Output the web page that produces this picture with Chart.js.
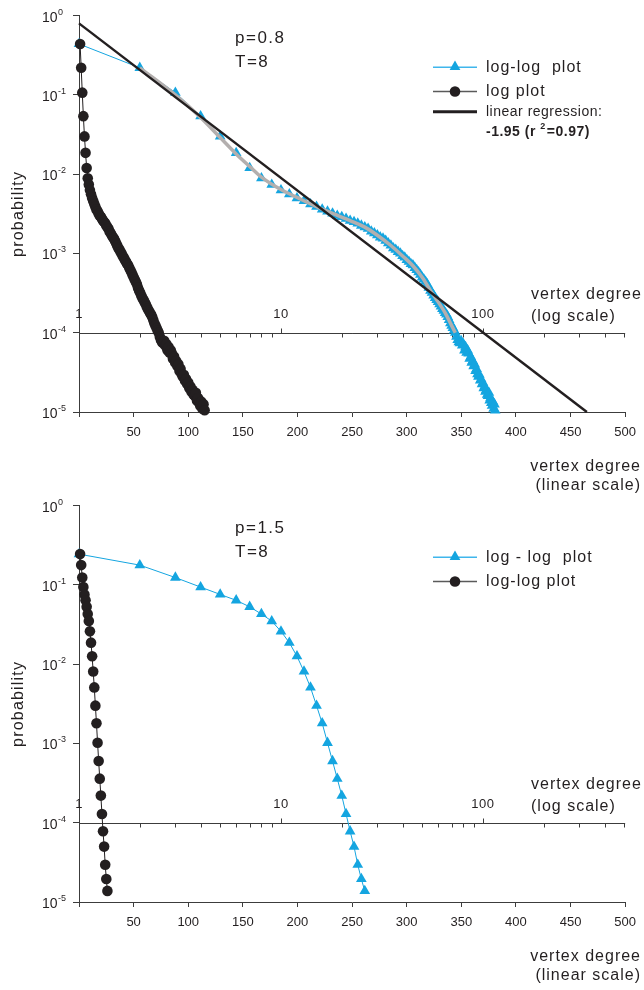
<!DOCTYPE html>
<html>
<head>
<meta charset="utf-8">
<script src="https://cdn.jsdelivr.net/npm/chart.js@4.4.1/dist/chart.umd.min.js"></script>
<style>
  html, body { margin: 0; padding: 0; background: #fff; }
  #wrap { position: relative; width: 644px; height: 990px; }
  canvas { position: absolute; left: 0; }
  #c1 { top: 0; }
  #c2 { top: 490px; }
</style>
</head>
<body>
<div id="wrap">
  <canvas id="c1" width="644" height="495"></canvas>
  <canvas id="c2" width="644" height="500"></canvas>
</div>
<script>
var FONT = '"Liberation Sans", Arial, Helvetica, sans-serif';
var INK = '#231f20';
var BLUE = '#14a5e0';
var AXIS = '#3c3c3c';

// --- panel 1 (p=0.8, T=8): probability of vertex degree 1, 2, 3 ...
var prob1 = [
  0.44, 0.22, 0.107, 0.054, 0.030, 0.0186, 0.0120, 0.0089, 0.0074, 0.0063,
  0.0056, 0.0050, 0.0046, 0.0042, 0.0039, 0.0036, 0.0034, 0.0032, 0.0030, 0.0029,
  0.00275, 0.0026, 0.0025, 0.0024, 0.00225, 0.00215, 0.00205, 0.0019, 0.0018, 0.0017,
  0.0016, 0.00155, 0.00145, 0.00135, 0.00126, 0.00117, 0.00112, 0.00105, 0.0010, 0.00093,
  0.00089, 0.00083, 0.00079, 0.00074, 0.00071, 0.00066, 0.00062, 0.00058, 0.00054, 0.00050,
  0.00047, 0.00044, 0.00041, 0.00037, 0.00034, 0.00032, 0.000295, 0.000275, 0.00026, 0.000245,
  0.00023, 0.000215, 0.00020, 0.00019, 0.000178, 0.00017, 0.000158, 0.000145, 0.000132, 0.000123,
  0.000115, 0.000107, 0.00010, 0.000089, 0.000081, 0.000076, 0.000074, 0.000079, 0.000069, 0.000072,
  0.000060, 0.000066, 0.000056, 0.000060, 0.000055, 0.000047, 0.000050, 0.000042, 0.000044, 0.000038,
  0.000040, 0.000033, 0.000035, 0.000030, 0.000028, 0.0000295, 0.000025, 0.000026, 0.0000225, 0.0000235,
  0.000020, 0.000021, 0.000018, 0.000019, 0.0000165, 0.000016, 0.0000175, 0.000014, 0.000015, 0.000013,
  0.000012, 0.0000135, 0.000011, 0.0000125, 0.0000105
];
// smooth (grey) fit of the log-log curve
var fitDegree1 = [2, 3, 4, 5, 6, 7, 8, 10, 12, 15, 18, 22, 26, 30, 35, 40, 45, 50, 55, 60, 65, 70, 73];
var fitProb1 = [0.22, 0.10, 0.052, 0.029, 0.018, 0.0125, 0.0092, 0.0064, 0.0051, 0.0039, 0.0032, 0.0026,
  0.00215, 0.0017, 0.00126, 0.00093, 0.0007, 0.0005, 0.00034, 0.000245, 0.000178, 0.000123, 0.0001];
// linear regression, slope -1.95
var regDegree1 = [1, 327];
var regProb1 = [0.8, 0.00001];

// --- panel 2 (p=1.5, T=8)
var prob2 = [
  0.245, 0.178, 0.124, 0.094, 0.076, 0.064, 0.053, 0.043, 0.035, 0.026,
  0.0187, 0.0126, 0.0081, 0.0051, 0.0030, 0.0018, 0.00102, 0.00060, 0.00036, 0.00022,
  0.000129, 0.000078, 0.000050, 0.0000295, 0.0000195, 0.0000138
];

// --- axes
var yTickValues = [1, 0.1, 0.01, 0.001, 0.0001, 0.00001];
var yTickExp = ['0', '-1', '-2', '-3', '-4', '-5'];
var logMajor = [1, 10, 100];
var logMinor = [2, 3, 4, 5, 6, 7, 8, 9, 20, 30, 40, 50, 60, 70, 80, 90, 200, 300, 400, 500];

function byDegree(probs) {
  return probs.map(function (p, i) { return { x: i + 1, y: p }; });
}
function pairs(xs, ys) {
  return xs.map(function (x, i) { return { x: x, y: ys[i] }; });
}

function text(ctx, s, x, y, font, align, spacing) {
  ctx.save();
  ctx.font = font;
  ctx.fillStyle = INK;
  ctx.textAlign = align || 'left';
  ctx.textBaseline = 'middle';
  ctx.letterSpacing = (spacing || 0) + 'px';
  ctx.fillText(s, x, y);
  ctx.restore();
}

function triangle(ctx, x, y, r) {
  ctx.beginPath();
  ctx.moveTo(x, y - r);
  ctx.lineTo(x + r * 0.866, y + r / 2);
  ctx.lineTo(x - r * 0.866, y + r / 2);
  ctx.closePath();
  ctx.fill();
}

function deco(cfg) {
  return {
    id: 'deco',
    beforeDatasetsDraw: function (chart) {
      var ctx = chart.ctx, a = chart.chartArea;
      var xl = chart.scales.xLog, ys = chart.scales.y;
      var y0 = Math.round(ys.getPixelForValue(0.0001)) + 0.5;
      ctx.save();
      ctx.strokeStyle = AXIS;
      ctx.lineWidth = 1;
      ctx.beginPath();
      ctx.moveTo(a.left, y0);
      ctx.lineTo(a.right, y0);
      logMinor.forEach(function (v) {
        var px = Math.round(xl.getPixelForValue(v)) + 0.5;
        ctx.moveTo(px, y0);
        ctx.lineTo(px, y0 + 4);
      });
      logMajor.forEach(function (v) {
        var px = Math.round(xl.getPixelForValue(v)) + 0.5;
        ctx.moveTo(px, y0);
        ctx.lineTo(px, y0 - 5);
      });
      ctx.stroke();
      ctx.restore();
      logMajor.forEach(function (v) {
        text(ctx, String(v), xl.getPixelForValue(v), y0 - 19, '13px ' + FONT, 'center', 0.5);
      });
      text(ctx, 'vertex degree', 531, y0 - 39, '16px ' + FONT, 'left', 1);
      text(ctx, '(log scale)', 531, y0 - 17, '16px ' + FONT, 'left', 1);
    },
    afterDraw: function (chart) {
      var ctx = chart.ctx, a = chart.chartArea;
      var ys = chart.scales.y;
      // y tick labels 10^n
      yTickValues.forEach(function (v, i) {
        var py = ys.getPixelForValue(v);
        ctx.save();
        ctx.fillStyle = INK;
        ctx.textBaseline = 'alphabetic';
        ctx.font = '9px ' + FONT;
        ctx.textAlign = 'left';
        ctx.fillText(yTickExp[i], 58, py - 1);
        ctx.font = '14px ' + FONT;
        ctx.textAlign = 'right';
        ctx.fillText('10', 57.5, py + 6);
        ctx.restore();
      });
      // y title
      ctx.save();
      ctx.translate(18.5, (a.top + a.bottom) / 2);
      ctx.rotate(-Math.PI / 2);
      text(ctx, 'probability', 0, 0, '16px ' + FONT, 'center', 1.2);
      ctx.restore();
      // x title
      text(ctx, 'vertex degree', 641, a.bottom + 55, '16px ' + FONT, 'right', 1);
      text(ctx, '(linear scale)', 641, a.bottom + 74, '16px ' + FONT, 'right', 1);
      // annotation
      text(ctx, cfg.note[0], 235, 38, '17px ' + FONT, 'left', 1.5);
      text(ctx, cfg.note[1], 235, 62, '17px ' + FONT, 'left', 1.5);
      // legend
      cfg.legend.forEach(function (it) {
        ctx.save();
        if (it.kind === 'tri') {
          ctx.strokeStyle = '#3fb6ec';
          ctx.lineWidth = 1.5;
          ctx.beginPath(); ctx.moveTo(433, it.y); ctx.lineTo(477, it.y); ctx.stroke();
          ctx.fillStyle = BLUE;
          triangle(ctx, 455, it.y - 0.5, 6.2);
        } else if (it.kind === 'dot') {
          ctx.strokeStyle = '#5a5a5a';
          ctx.lineWidth = 1.5;
          ctx.beginPath(); ctx.moveTo(433, it.y); ctx.lineTo(477, it.y); ctx.stroke();
          ctx.fillStyle = INK;
          ctx.beginPath(); ctx.arc(455, it.y, 5.3, 0, Math.PI * 2); ctx.fill();
        } else {
          ctx.strokeStyle = INK;
          ctx.lineWidth = 3;
          ctx.beginPath(); ctx.moveTo(433, it.y); ctx.lineTo(477, it.y); ctx.stroke();
        }
        ctx.restore();
        if (it.kind === 'reg') {
          text(ctx, 'linear regression:', 486, it.y, '14px ' + FONT, 'left', 0.5);
          var bold = 'bold 14px ' + FONT;
          ctx.save();
          ctx.font = bold;
          ctx.letterSpacing = '0.5px';
          var w1 = ctx.measureText('-1.95 (r ').width;
          ctx.font = 'bold 9px ' + FONT;
          var w2 = ctx.measureText('2').width;
          ctx.restore();
          text(ctx, '-1.95 (r ', 486, it.y + 20, bold, 'left', 0.5);
          text(ctx, '2', 486 + w1, it.y + 15, 'bold 9px ' + FONT, 'left', 0);
          text(ctx, '=0.97)', 486 + w1 + w2 + 1, it.y + 20, bold, 'left', 0.5);
        } else {
          text(ctx, it.label, 486, it.y, '16px ' + FONT, 'left', 1);
        }
      });
    }
  };
}

function makeChart(id, canvasH, datasets, cfg) {
  return new Chart(document.getElementById(id), {
    type: 'line',
    data: { datasets: datasets },
    options: {
      responsive: false,
      animation: false,
      events: [],
      layout: { padding: { left: 0, right: 16, top: 15.7, bottom: 0 } },
      plugins: { legend: { display: false }, tooltip: { enabled: false } },
      scales: {
        x: {
          type: 'linear', position: 'bottom', min: 0, max: 500,
          border: { color: AXIS, width: 1 },
          grid: { drawOnChartArea: false, tickLength: 5, color: AXIS },
          ticks: {
            stepSize: 50, autoSkip: false, maxRotation: 0, padding: 8, color: INK,
            font: { family: FONT, size: 13 },
            callback: function (v) { return v === 0 ? '' : String(v); }
          },
          afterFit: function (s) { s.height = canvasH - 412; }
        },
        xLog: { type: 'logarithmic', position: 'top', min: 1, max: 506, display: false },
        y: {
          type: 'logarithmic', min: 0.00001, max: 1,
          border: { color: AXIS, width: 1 },
          grid: { drawOnChartArea: false, tickLength: 6, color: AXIS },
          ticks: { display: false },
          afterBuildTicks: function (s) {
            s.ticks = yTickValues.map(function (v) { return { value: v }; });
          },
          afterFit: function (s) { s.width = 79; }
        }
      }
    },
    plugins: [deco(cfg)]
  });
}

function circles(data) {
  return {
    data: data, xAxisID: 'x', yAxisID: 'y', clip: false,
    borderColor: INK, borderWidth: 1, tension: 0,
    pointRadius: 5.3, pointBackgroundColor: INK, pointBorderWidth: 0, pointStyle: 'circle'
  };
}
function triangles(data) {
  return {
    data: data, xAxisID: 'xLog', yAxisID: 'y', clip: false,
    borderColor: BLUE, borderWidth: 1, tension: 0,
    pointRadius: 6.2, pointBackgroundColor: BLUE, pointBorderWidth: 0, pointStyle: 'triangle'
  };
}

makeChart('c1', 495, [
  circles(byDegree(prob1)),
  {
    data: pairs(regDegree1, regProb1), xAxisID: 'xLog', yAxisID: 'y', clip: false,
    borderColor: INK, borderWidth: 2.5, pointRadius: 0
  },
  {
    data: pairs(fitDegree1, fitProb1), xAxisID: 'xLog', yAxisID: 'y', clip: false,
    borderColor: '#b3afae', borderWidth: 3.5, pointRadius: 0, cubicInterpolationMode: 'monotone'
  },
  triangles(byDegree(prob1))
], {
  note: ['p=0.8', 'T=8'],
  legend: [
    { kind: 'tri', y: 67.3, label: 'log-log  plot' },
    { kind: 'dot', y: 91.5, label: 'log plot' },
    { kind: 'reg', y: 111.7 }
  ]
});

makeChart('c2', 500, [
  circles(byDegree(prob2)),
  triangles(byDegree(prob2))
], {
  note: ['p=1.5', 'T=8'],
  legend: [
    { kind: 'tri', y: 67.3, label: 'log - log  plot' },
    { kind: 'dot', y: 91.5, label: 'log-log plot' }
  ]
});
</script>
</body>
</html>
